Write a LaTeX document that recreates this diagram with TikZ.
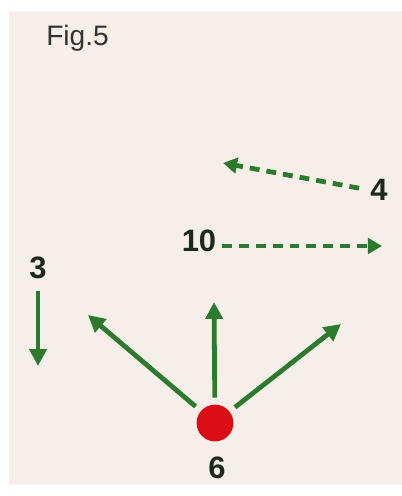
\documentclass[tikz,border=0pt]{standalone}
\usepackage{fontspec}
\setmainfont{Liberation Sans}
\usetikzlibrary{arrows.meta}

\definecolor{papel}{RGB}{246,239,233}
\definecolor{verde}{RGB}{44,122,46}
\definecolor{tinta}{RGB}{28,42,30}
\definecolor{vermelho}{RGB}{218,12,22}

\begin{document}
\begin{tikzpicture}[
    x=0.025cm, y=-0.025cm,
    % Number labels
    num/.style={
        font=\fontsize{22}{26}\selectfont\bfseries,
        text=tinta, inner sep=1pt
    },
    % Solid green arrows
    seta/.style={
        draw=verde, line width=3.4pt,
        -{Triangle[length=12pt, width=12pt]}
    },
    % Dashed green arrows
    setatr/.style={
        draw=verde, line width=3.4pt,
        dash pattern=on 7pt off 5pt,
        -{Triangle[length=10pt, width=11pt]}
    }
]

% ---- BACKGROUND ----
\useasboundingbox[fill=white] (0,0) rectangle (402,496);
\fill[papel] (9,11) rectangle (402,485);

% ---- TITLE ----
\node[anchor=base west, inner sep=0pt, text=black!80,
      font=\fontsize{20}{24}\selectfont] (titulo) at (46,45) {Fig.5};

% ---- LABELS ----
\node[num] (n4)  at (379,190) {4};
\node[num] (n10) at (199,241) {10};
\node[num] (n3)  at (38,268)  {3};
\node[num] (n6)  at (217,468) {6};

% ---- RED POINT ----
\node[circle, fill=vermelho, minimum size=0.92cm, inner sep=0pt,
      outer sep=5pt] (ponto) at (215,423) {};

% ---- ARROW TIPS ----
\coordinate (t4)   at (223,163);
\coordinate (t10)  at (382,246);
\coordinate (t3)   at (38,366);
\coordinate (t_esq)  at (88,315);
\coordinate (t_meio) at (214,302);
\coordinate (t_dir)  at (341,324);

% ---- DASHED ARROWS ----
\draw[setatr, shorten <=7pt] (n4.west) -- (t4);
\draw[setatr, shorten <=3pt] (n10.east |- t10) -- (t10);

% ---- SOLID ARROWS ----
\draw[seta, shorten <=7pt] (n3.south) -- (t3);
\draw[seta] (ponto) -- (t_esq);
\draw[seta] (ponto) -- (t_meio);
\draw[seta] (ponto) -- (t_dir);

\end{tikzpicture}
\end{document}
